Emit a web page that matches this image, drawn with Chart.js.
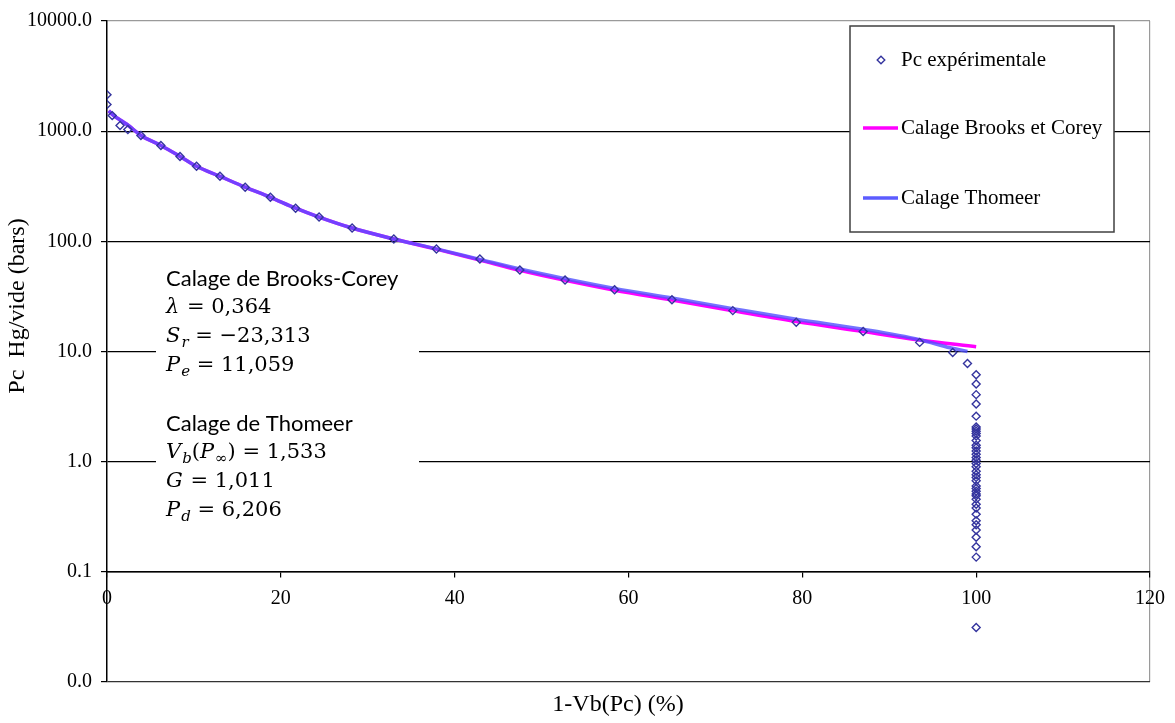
<!DOCTYPE html>
<html>
<head>
<meta charset="utf-8">
<script src="https://cdn.jsdelivr.net/npm/chart.js@4/dist/chart.umd.min.js"></script>
<style>
  html, body { margin: 0; padding: 0; background: #fff; }
  #wrap { width: 1175px; height: 723px; }
</style>
</head>
<body>
<div id="wrap"><canvas id="chart" width="1175" height="723"></canvas></div>
<script>
// experimental points, 1-Vb (%) vs Pc (bars)
const expX = [0, 0, 0.6, 1.5, 2.4, 3.9, 6.2, 8.4, 10.3, 13.0, 15.9, 18.8, 21.7, 24.4, 28.2,
  33.0, 37.9, 42.9, 47.5, 52.7, 58.4, 65.0, 72.0, 79.3, 87.0, 93.5, 97.3, 99.0,
  100, 100, 100, 100, 100, 100, 100, 100, 100, 100, 100, 100, 100, 100, 100,
  100, 100, 100, 100, 100, 100, 100, 100, 100, 100, 100, 100, 100, 100, 100,
  100, 100, 100, 100, 100, 100, 100, 100, 100];
const expY = [2143, 1742, 1384, 1125, 1035, 914, 742, 590, 480, 389, 310, 251, 200, 166, 132,
  105, 85, 69, 55, 44.6, 36.3, 29.5, 23.5, 18.4, 15.2, 12.1, 9.8, 7.8,
  6.15, 5.06, 4.06, 3.34, 2.59, 2.06, 1.98, 1.89, 1.80, 1.71, 1.56, 1.41, 1.34, 1.25, 1.17,
  1.09, 1.03, 0.96, 0.90, 0.82, 0.76, 0.72, 0.67, 0.60, 0.57, 0.54, 0.51, 0.49, 0.457, 0.41,
  0.38, 0.334, 0.291, 0.268, 0.240, 0.206, 0.169, 0.136, 0.0312];

// fitted curves
const bcX = [0.2, 0.6, 1.6, 2.5, 3.9, 6.2, 8.4, 10.3, 13.0, 15.9, 18.8, 21.7, 24.4, 28.2, 33.0,
  37.9, 42.9, 47.5, 52.7, 58.4, 65.0, 72.0, 79.3, 87.0, 93.5, 100];
const bcY = [1530, 1420, 1250, 1120, 915, 742, 590, 480, 389, 310, 251, 200, 166, 132, 105,
  85, 67.5, 54.5, 44.2, 36.0, 29.3, 23.4, 18.7, 15.2, 12.7, 11.06];
const thX = [0.2, 0.6, 1.6, 2.5, 3.9, 6.2, 8.4, 10.3, 13.0, 15.9, 18.8, 21.7, 24.4, 28.2, 33.0,
  37.9, 42.9, 47.5, 52.7, 58.4, 65.0, 72.0, 79.3, 87.0, 93.5, 97.0, 99.0];
const thY = [1530, 1420, 1250, 1120, 915, 742, 590, 480, 389, 310, 251, 200, 166, 132, 105,
  85.5, 68.5, 56, 45.8, 37.4, 30.6, 24.5, 19.6, 15.9, 12.8, 10.8, 10.0];

const xTicks = [0, 20, 40, 60, 80, 100, 120];
const yTicks = [0.01, 0.1, 1, 10, 100, 1000, 10000];

const legendLabels = ['Pc expérimentale', 'Calage Brooks et Corey', 'Calage Thomeer'];
const xTitle = '1-Vb(Pc) (%)';
const yTitle = 'Pc  Hg/vide (bars)';

const SERIF = '"Liberation Serif", "Times New Roman", serif';
const MATH = '"DejaVu Serif", serif';
const SANS = 'Lato, "Open Sans", sans-serif';

const ptColor = '#34349e';
const bcColor = '#ff00ff';
const thColor = 'rgba(80, 80, 255, 0.8)';

// fitted parameters box, [text, style] segments per line
const noteLines = [
  [['Calage de Brooks-Corey', 't']],
  [['λ', 'i'], [' = 0,364', 'n']],
  [['S', 'i'], ['r', 's'], [' = −23,313', 'n']],
  [['P', 'i'], ['e', 's'], [' = 11,059', 'n']],
  [],
  [['Calage de Thomeer', 't']],
  [['V', 'i'], ['b', 's'], ['(', 'n'], ['P', 'i'], ['∞', 'sn'], [') = 1,533', 'n']],
  [['G', 'i'], [' = 1,011', 'n']],
  [['P', 'i'], ['d', 's'], [' = 6,206', 'n']]
];

function pts(xs, ys) {
  return xs.map((x, i) => ({ x: x, y: ys[i] }));
}

function segFont(st) {
  if (st === 't') return '22px ' + SANS;
  if (st === 'i') return 'italic 21px ' + MATH;
  if (st === 's') return 'italic 15px ' + MATH;
  if (st === 'sn') return '15px ' + MATH;
  return '21px ' + MATH;
}

const overlay = {
  id: 'overlay',
  afterDraw(chart) {
    const ctx = chart.ctx;
    ctx.save();

    // axis titles
    ctx.fillStyle = '#000';
    ctx.font = '24px ' + SERIF;
    ctx.textAlign = 'center';
    ctx.textBaseline = 'middle';
    ctx.fillText(xTitle, 618, 705);
    ctx.save();
    ctx.translate(18, 306);
    ctx.rotate(-Math.PI / 2);
    ctx.fillText(yTitle, 0, 0);
    ctx.restore();

    // parameters box
    ctx.fillStyle = '#fff';
    ctx.fillRect(156, 262, 263, 266);
    ctx.fillStyle = '#000';
    ctx.textAlign = 'left';
    noteLines.forEach((segs, i) => {
      const y = 279 + i * 29;
      let x = 166;
      segs.forEach(([t, st]) => {
        ctx.font = segFont(st);
        const dy = (st === 's' || st === 'sn') ? 6 : 0;
        ctx.fillText(t, x, y + dy);
        x += ctx.measureText(t).width + (st === 'i' ? 1 : 0);
      });
    });

    // legend box
    ctx.fillStyle = '#fff';
    ctx.fillRect(850, 26, 264, 206);
    ctx.strokeStyle = '#404040';
    ctx.lineWidth = 1.5;
    ctx.strokeRect(850, 26, 264, 206);

    ctx.strokeStyle = ptColor;
    ctx.lineWidth = 1.4;
    Chart.helpers.drawPoint(ctx, { pointStyle: 'rectRot', radius: 3.8, borderWidth: 1.4 }, 881, 60);

    ctx.lineWidth = 3.5;
    ctx.strokeStyle = bcColor;
    ctx.beginPath(); ctx.moveTo(863, 128); ctx.lineTo(898, 128); ctx.stroke();
    ctx.strokeStyle = '#5c5cff';
    ctx.beginPath(); ctx.moveTo(863, 198); ctx.lineTo(898, 198); ctx.stroke();

    ctx.fillStyle = '#000';
    ctx.font = '21px ' + SERIF;
    ctx.fillText(legendLabels[0], 901, 60);
    ctx.fillText(legendLabels[1], 901, 128);
    ctx.fillText(legendLabels[2], 901, 198);

    ctx.restore();
  }
};

new Chart(document.getElementById('chart'), {
  type: 'scatter',
  data: {
    datasets: [
      {
        label: legendLabels[0],
        data: pts(expX, expY),
        pointStyle: 'rectRot',
        pointRadius: 4,
        pointBorderWidth: 1.4,
        borderColor: ptColor,
        backgroundColor: 'rgba(0,0,0,0)',
        showLine: false,
        order: 0
      },
      {
        label: legendLabels[2],
        data: pts(thX, thY),
        showLine: true,
        borderColor: thColor,
        borderWidth: 3.5,
        pointRadius: 0,
        cubicInterpolationMode: 'monotone',
        order: 1
      },
      {
        label: legendLabels[1],
        data: pts(bcX, bcY),
        showLine: true,
        borderColor: bcColor,
        borderWidth: 3.5,
        pointRadius: 0,
        cubicInterpolationMode: 'monotone',
        order: 2
      }
    ]
  },
  options: {
    responsive: false,
    animation: false,
    layout: { padding: { top: 18, right: 19, left: 0, bottom: 41 } },
    plugins: { legend: { display: false }, tooltip: { enabled: false } },
    scales: {
      x: {
        type: 'linear',
        min: 0,
        max: 120,
        position: { y: 0.1 },
        afterBuildTicks: s => { s.ticks = xTicks.map(v => ({ value: v })); },
        ticks: { color: '#000', font: { family: SERIF, size: 20 }, padding: 10 },
        grid: {
          color: c => (c.tick && c.tick.value === 120) ? '#9a9a9a' : 'rgba(0,0,0,0)',
          tickColor: '#000',
          tickLength: 5,
          lineWidth: 1.2
        },
        border: { color: '#000', width: 1.5 }
      },
      y: {
        type: 'logarithmic',
        min: 0.01,
        max: 10000,
        afterBuildTicks: s => { s.ticks = yTicks.map(v => ({ value: v })); },
        afterFit: s => { s.width = 107; },
        ticks: {
          color: '#000',
          font: { family: SERIF, size: 20 },
          padding: 9,
          callback: v => Number(v).toFixed(1)
        },
        grid: {
          color: c => {
            if (!c.tick) return '#000';
            if (c.tick.value === 10000) return '#9a9a9a';
            if (c.tick.value === 0.01) return '#333';
            return '#000';
          },
          tickColor: '#000',
          tickLength: 6,
          lineWidth: 1.2
        },
        border: { color: '#000', width: 1.5 }
      }
    }
  },
  plugins: [overlay]
});
</script>
</body>
</html>
